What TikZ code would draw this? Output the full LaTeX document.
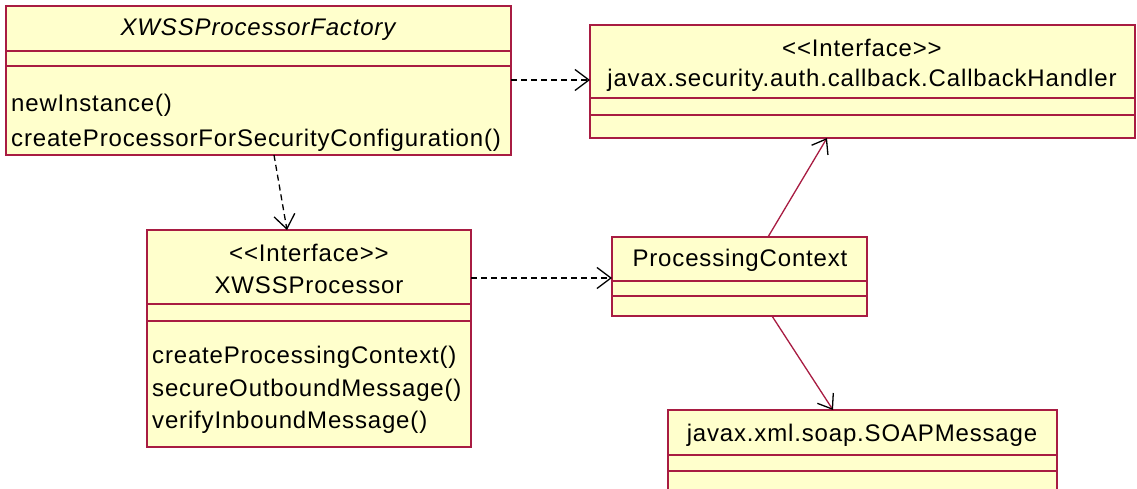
\documentclass[tikz,border=0pt]{standalone}
\usepackage{fontspec}
\setmainfont{Liberation Sans}[LetterSpace=3.5]
\usetikzlibrary{arrows.meta}
\definecolor{umlfill}{RGB}{255,255,204}
\definecolor{umlline}{RGB}{168,28,66}
\begin{document}
\begin{tikzpicture}[x=1pt,y=-1pt,
  cls/.style={draw=umlline, fill=umlfill, line width=1.5pt, inner sep=0pt, outer sep=0pt, anchor=north west},
  divl/.style={draw=umlline, line width=1.5pt},
  lbl/.style={font=\fontsize{24}{28}\selectfont, inner sep=0pt},
  meth/.style={lbl, anchor=west},
  dep/.style={black, line width=1.3pt, dash pattern=on 6pt off 4pt, -{Straight Barb[length=14pt,width=21pt,line width=1.3pt]}},
  assoc/.style={draw=umlline, line width=1.3pt, -{Straight Barb[length=13pt,width=19pt,line width=1.3pt,color=black]}}
]
\useasboundingbox (0,0) rectangle (1137,489);
\clip (0,0) rectangle (1137,489);
\fill[white] (0,0) rectangle (1137,489);

% XWSSProcessorFactory
\node[cls, minimum width=505pt, minimum height=149pt] (fac) at (6,6) {};
\draw[divl] (6,51) -- (511,51);
\draw[divl] (6,66) -- (511,66);
\node[lbl] (facN) at (258,30) {\itshape XWSSProcessorFactory};
\node[meth] (facM1) at (11,105) {newInstance()};
\node[meth] (facM2) at (11,140) {createProcessorForSecurityConfiguration()};

% CallbackHandler
\node[cls, minimum width=545pt, minimum height=113pt] (cbh) at (590,25) {};
\draw[divl] (590,98) -- (1135,98);
\draw[divl] (590,115) -- (1135,115);
\node[lbl] (cbhS) at (862,48) {{<}{<}Interface{>}{>}};
\node[lbl] (cbhN) at (862,80) {javax.security.auth.callback.CallbackHandler};

% XWSSProcessor
\node[cls, minimum width=324pt, minimum height=217pt] (xp) at (147,230) {};
\draw[divl] (147,304) -- (471,304);
\draw[divl] (147,321) -- (471,321);
\node[lbl] (xpS) at (309,253) {{<}{<}Interface{>}{>}};
\node[lbl] (xpN) at (309,285) {XWSSProcessor};
\node[meth] (xpM1) at (152,357) {createProcessingContext()};
\node[meth] (xpM2) at (152,390) {secureOutboundMessage()};
\node[meth] (xpM3) at (152,422) {verifyInboundMessage()};

% ProcessingContext
\node[cls, minimum width=255pt, minimum height=79pt] (pc) at (612,237) {};
\draw[divl] (612,281) -- (867,281);
\draw[divl] (612,296) -- (867,296);
\node[lbl] (pcN) at (740,260) {ProcessingContext};

% SOAPMessage
\node[cls, minimum width=389pt, minimum height=100pt] (soap) at (668,410) {};
\draw[divl] (668,455) -- (1057,455);
\draw[divl] (668,471) -- (1057,471);
\node[lbl] (soapN) at (862,435) {javax.xml.soap.SOAPMessage};

% connectors
\draw[dep] (fac.east |- 0,80) -- (cbh.west |- 0,80);
\draw[dep] (fac.south -| 274,0) -- (xp.north -| 287,0);
\draw[dep] (xp.east |- 0,278) -- (pc.west |- 0,278);
\draw[assoc] (pc.north -| 768,0) -- (cbh.south -| 827,0);
\draw[assoc] (pc.south -| 772,0) -- (soap.north -| 833,0);
\end{tikzpicture}
\end{document}
